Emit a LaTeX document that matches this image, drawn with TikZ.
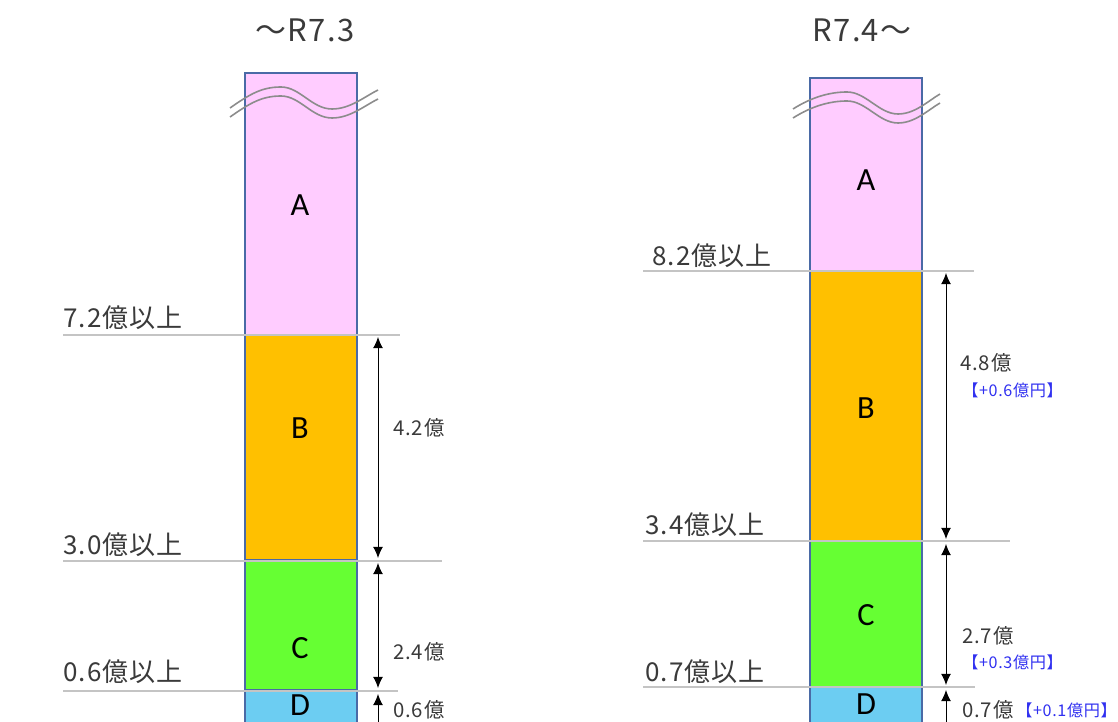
\documentclass[tikz,border=0pt]{standalone}
\usepackage{fontspec}
\setmainfont{Noto Sans CJK JP}
\newfontfamily\largefont[LetterSpace=4]{Noto Sans CJK JP}
\newfontfamily\lettrefont{Carlito}
\usetikzlibrary{arrows.meta}

\definecolor{roseA}{HTML}{FFCCFF}
\definecolor{orangeB}{HTML}{FFC000}
\definecolor{vertC}{HTML}{66FF33}
\definecolor{bleuD}{HTML}{6CCDF2}
\definecolor{bordbleu}{HTML}{4A6AA6}
\definecolor{grisligne}{HTML}{C4C4C4}
\definecolor{grisvague}{HTML}{8C8C8C}
\definecolor{grisfonce}{HTML}{3A3A3A}
\definecolor{bleutexte}{HTML}{3030F0}

\begin{document}
\begin{tikzpicture}[x=0.25mm, y=-0.25mm]
			\tikzset{bloc/.style={draw=bordbleu, line width=0.4mm}, seuil/.style={draw=grisligne, line width=0.35mm},
				fleche/.style={{Latex[length=2.8mm,width=2.5mm]}-{Latex[length=2.8mm,width=2.5mm]}, line width=0.25mm},
				vague/.style={draw=grisvague, line width=0.4mm},
				lettre/.style={font=\lettrefont\fontsize{23}{25}\selectfont},
				titre/.style={text=grisfonce, font=\largefont\fontsize{22}{26}\selectfont},
				palier/.style={anchor=west, inner sep=0pt, text=grisfonce, font=\largefont\fontsize{18.5}{22}\selectfont},
				cote/.style={anchor=west, inner sep=0pt, text=grisfonce, font=\largefont\fontsize{14.5}{17}\selectfont},
				ajout/.style={anchor=west, inner sep=0pt, text=bleutexte, font=\largefont\fontsize{11.5}{13}\selectfont}};

			\useasboundingbox (0,0) rectangle (1118,722);
			\clip (0,0) rectangle (1118,722);

			% colonne gauche
			\draw[bloc, fill=roseA]   (245,  73) rectangle (357, 335);
			\draw[bloc, fill=orangeB] (245, 335) rectangle (357, 560);
			\draw[bloc, fill=vertC]   (245, 560) rectangle (357, 690);
			\draw[bloc, fill=bleuD]   (245, 690) rectangle (357, 740);

			\draw[vague] (230,108) .. controls (250,94) and (262,87) .. (281,87) .. controls (300,87) and (312,109) .. (332,109) .. controls (350,109) and (364,97) .. (378,90);
			\draw[vague] (230,117) .. controls (250,103) and (262,96) .. (281,96) .. controls (300,96) and (312,118) .. (332,118) .. controls (350,118) and (364,106) .. (378,99);

			\draw[seuil] (63,335) -- (400,335);
			\draw[seuil] (63,561) -- (442,561);
			\draw[seuil] (63,691) -- (398,691);

			% colonne droite
			\draw[bloc, fill=roseA]   (810,  78) rectangle (922, 271);
			\draw[bloc, fill=orangeB] (810, 271) rectangle (922, 541);
			\draw[bloc, fill=vertC]   (810, 541) rectangle (922, 687);
			\draw[bloc, fill=bleuD]   (810, 687) rectangle (922, 740);

			\draw[vague] (793,109) .. controls (812,97) and (830,92) .. (847,92) .. controls (866,92) and (879,114) .. (898,114) .. controls (915,114) and (928,101) .. (940,94);
			\draw[vague] (793,118) .. controls (812,106) and (830,101) .. (847,101) .. controls (866,101) and (879,123) .. (898,123) .. controls (915,123) and (928,110) .. (940,103);

			\draw[seuil] (643,271) -- (974,271);
			\draw[seuil] (643,541) -- (1010,541);
			\draw[seuil] (643,687) -- (975,687);

			\node[titre] (t1) at (305, 30) {～R7.3};
			\node[titre] (t2) at (862, 30) {R7.4～};

			\node[lettre] (a1) at (300, 205) {A};
			\node[lettre] (b1) at (300, 428) {B};
			\node[lettre] (c1) at (300, 648) {C};
			\node[lettre] (d1) at (300, 705) {D};
			\node[lettre] (a2) at (866, 180) {A};
			\node[lettre] (b2) at (866, 408) {B};
			\node[lettre] (c2) at (866, 615) {C};
			\node[lettre] (d2) at (866, 704) {D};

			\node[palier] (p1) at ( 63, 318) {7.2億以上};
			\node[palier] (p2) at ( 63, 545) {3.0億以上};
			\node[palier] (p3) at ( 63, 672) {0.6億以上};
			\node[palier] (p4) at (652, 256) {8.2億以上};
			\node[palier] (p5) at (645, 525) {3.4億以上};
			\node[palier] (p6) at (645, 672) {0.7億以上};

			\coordinate (h1) at (378, 337); \coordinate (k1) at (378, 558);
			\coordinate (h2) at (378, 563); \coordinate (k2) at (378, 688);
			\coordinate (h3) at (378, 694); \coordinate (k3) at (378, 736);
			\coordinate (h4) at (946, 273); \coordinate (k4) at (946, 539);
			\coordinate (h5) at (946, 544); \coordinate (k5) at (946, 685);
			\coordinate (h6) at (946, 690); \coordinate (k6) at (946, 736);

			\draw[fleche] (h1) -- (k1);
			\draw[fleche] (h2) -- (k2);
			\draw[fleche] (h3) -- (k3);
			\draw[fleche] (h4) -- (k4);
			\draw[fleche] (h5) -- (k5);
			\draw[fleche] (h6) -- (k6);

			\node[cote] (e1) at (393, 428) {4.2億};
			\node[cote] (e2) at (393, 652) {2.4億};
			\node[cote] (e3) at (393, 710) {0.6億};
			\node[cote] (e4) at (960, 363) {4.8億};
			\node[cote] (e5) at (962, 636) {2.7億};
			\node[cote] (e6) at (962, 710) {0.7億};

			\node[ajout] (g1) at ( 962, 390) {【+0.6億円】};
			\node[ajout] (g2) at ( 962, 662) {【+0.3億円】};
			\node[ajout] (g3) at (1016, 710) {【+0.1億円】};

		\end{tikzpicture}
\end{document}
